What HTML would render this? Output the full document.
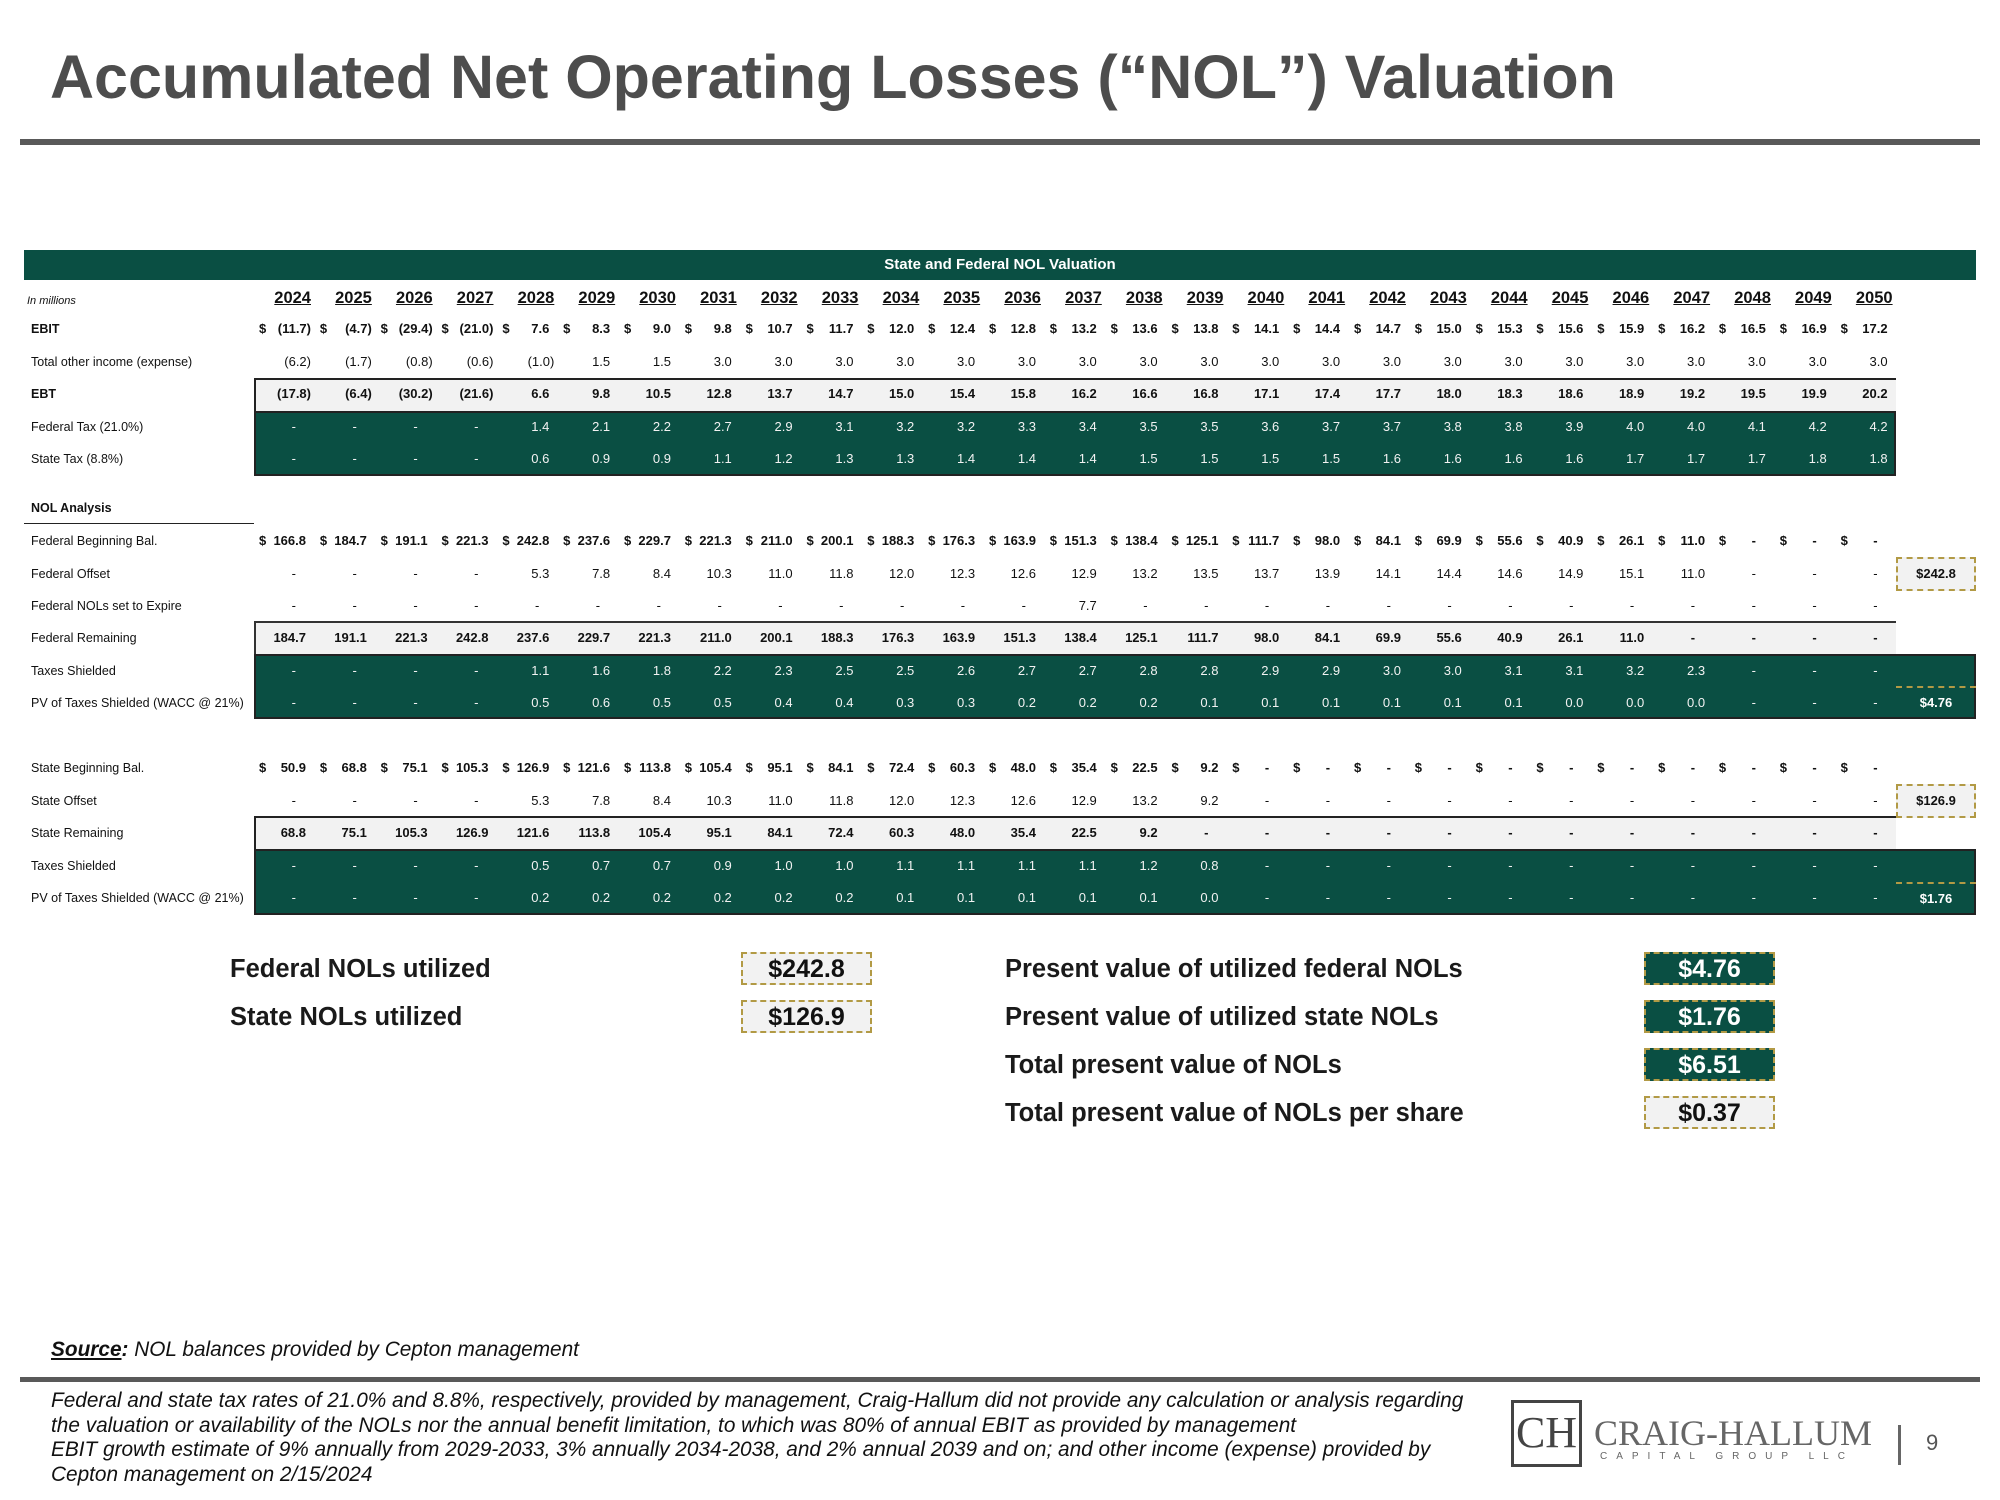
<!DOCTYPE html>
<html><head><meta charset="utf-8">
<style>
body{margin:0;background:#fff;}
#page{position:relative;width:2000px;height:1500px;overflow:hidden;background:#fff;font-family:"Liberation Sans",Arial,sans-serif;color:#111;}
.abs{position:absolute;}
.t{position:absolute;height:20px;line-height:20px;white-space:nowrap;font-family:"Liberation Sans",sans-serif;font-size:13px;}
.r{text-align:right;}
.lbl{position:absolute;height:20px;line-height:20px;white-space:nowrap;font-family:"Liberation Sans",sans-serif;font-size:12.5px;left:31px;}
.sumlbl{position:absolute;font-weight:bold;font-size:25.5px;line-height:34px;height:34px;color:#1a1a1a;white-space:nowrap;}
.box{position:absolute;width:131px;height:33px;line-height:31px;text-align:center;font-weight:bold;font-size:25px;box-sizing:border-box;}
.lt{background:#f2f2f2;border:2px dashed #b29a45;color:#111;}
.gr{background:#0a4f43;border:2px dashed #b29a45;color:#fff;}
.foot{position:absolute;left:51px;font-style:italic;font-size:20.8px;line-height:24.5px;white-space:nowrap;color:#111;}
</style></head>
<body>
<div id="page">
  <div class="abs" style="left:50px;top:40px;font-size:61px;font-weight:bold;color:#4d4d4d;white-space:nowrap;line-height:74px;">Accumulated Net Operating Losses (“NOL”) Valuation</div>
  <div class="abs" style="left:20px;top:139px;width:1960px;height:6px;background:#595959;"></div>

  <div class="abs" style="left:24px;top:250px;width:1952px;height:30px;background:#0a4f43;color:#fff;font-weight:bold;font-size:15px;line-height:30px;text-align:center;">State and Federal NOL Valuation</div>

  <div class="abs" style="left:254px;top:378px;width:1642px;height:33px;background:#f2f2f2;border-top:2px solid #222;border-left:2px solid #222;box-sizing:border-box;"></div>
  <div class="abs" style="left:254px;top:411px;width:1642px;height:65px;background:#0a4f43;border:2px solid #222;box-sizing:border-box;"></div>
  <div class="abs" style="left:24px;top:523px;width:230px;height:1px;background:#222;"></div>
  <div class="abs" style="left:254px;top:621px;width:1642px;height:33px;background:#f2f2f2;border-top:2px solid #333;border-left:2px solid #333;box-sizing:border-box;"></div>
  <div class="abs" style="left:254px;top:654px;width:1722px;height:65px;background:#0a4f43;border:2px solid #222;box-sizing:border-box;"></div>
  <div class="abs" style="left:1896px;top:557px;width:80px;height:34px;line-height:30px;background:#f2f2f2;border:2px dashed #b29a45;box-sizing:border-box;text-align:center;font-weight:bold;font-size:13px;">$242.8</div>
  <div class="abs" style="left:1896px;top:686px;width:80px;height:33px;line-height:30px;border-top:2px dashed #b29a45;box-sizing:border-box;text-align:center;font-weight:bold;font-size:13px;color:#fff;">$4.76</div>
  <div class="abs" style="left:254px;top:816px;width:1642px;height:33px;background:#f2f2f2;border-top:2px solid #222;border-left:2px solid #222;box-sizing:border-box;"></div>
  <div class="abs" style="left:254px;top:849px;width:1722px;height:66px;background:#0a4f43;border:2px solid #222;box-sizing:border-box;"></div>
  <div class="abs" style="left:1896px;top:784px;width:80px;height:34px;line-height:30px;background:#f2f2f2;border:2px dashed #b29a45;box-sizing:border-box;text-align:center;font-weight:bold;font-size:13px;">$126.9</div>
  <div class="abs" style="left:1896px;top:882px;width:80px;height:33px;line-height:30px;border-top:2px dashed #b29a45;box-sizing:border-box;text-align:center;font-weight:bold;font-size:13px;color:#fff;">$1.76</div>

  <div class="t" style="left:27px;top:291px;font-style:italic;font-size:11px;">In millions</div>
  <div class="lbl" style="top:498px;font-weight:bold;">NOL Analysis</div>

  <div id="table"></div>

  <div class="sumlbl" style="left:230px;top:952px;">Federal NOLs utilized</div>
  <div class="box lt" style="left:741px;top:952px;">$242.8</div>
  <div class="sumlbl" style="left:230px;top:1000px;">State NOLs utilized</div>
  <div class="box lt" style="left:741px;top:1000px;">$126.9</div>
  <div class="sumlbl" style="left:1005px;top:952px;">Present value of utilized federal NOLs</div>
  <div class="box gr" style="left:1644px;top:952px;">$4.76</div>
  <div class="sumlbl" style="left:1005px;top:1000px;">Present value of utilized state NOLs</div>
  <div class="box gr" style="left:1644px;top:1000px;">$1.76</div>
  <div class="sumlbl" style="left:1005px;top:1048px;">Total present value of NOLs</div>
  <div class="box gr" style="left:1644px;top:1048px;">$6.51</div>
  <div class="sumlbl" style="left:1005px;top:1096px;">Total present value of NOLs per share</div>
  <div class="box lt" style="left:1644px;top:1096px;">$0.37</div>

  <div class="foot" style="top:1338px;"><b><u>Source</u>:</b> NOL balances provided by Cepton management</div>
  <div class="abs" style="left:20px;top:1377px;width:1960px;height:5px;background:#595959;"></div>
  <div class="foot" style="top:1389px;">Federal and state tax rates of 21.0% and 8.8%, respectively, provided by management, Craig-Hallum did not provide any calculation or analysis regarding<br>the valuation or availability of the NOLs nor the annual benefit limitation, to which was 80% of annual EBIT as provided by management<br>EBIT growth estimate of 9% annually from 2029-2033, 3% annually 2034-2038, and 2% annual 2039 and on; and other income (expense) provided by<br>Cepton management on 2/15/2024</div>

  <div class="abs" style="left:1511px;top:1400px;width:71px;height:67px;border:3px solid #444;box-sizing:border-box;font-family:'Liberation Serif',serif;font-size:44px;line-height:60px;text-align:center;color:#444;">CH</div>
  <div class="abs" style="left:1594px;top:1413px;font-family:'Liberation Serif',serif;font-size:36px;color:#666;white-space:nowrap;line-height:40px;">CRAIG-HALLUM</div>
  <div class="abs" style="left:1600px;top:1451px;font-size:10px;letter-spacing:9px;color:#666;white-space:nowrap;">CAPITAL GROUP LLC</div>
  <div class="abs" style="left:1898px;top:1425px;width:3px;height:40px;background:#666;"></div>
  <div class="abs" style="left:1926px;top:1430px;font-size:22px;color:#555;">9</div>
</div>
<script>
const years = [2024,2025,2026,2027,2028,2029,2030,2031,2032,2033,2034,2035,2036,2037,2038,2039,2040,2041,2042,2043,2044,2045,2046,2047,2048,2049,2050];
const N = null;
const ebit = [-11.7,-4.7,-29.4,-21.0,7.6,8.3,9.0,9.8,10.7,11.7,12.0,12.4,12.8,13.2,13.6,13.8,14.1,14.4,14.7,15.0,15.3,15.6,15.9,16.2,16.5,16.9,17.2];
const otherIncome = [-6.2,-1.7,-0.8,-0.6,-1.0,1.5,1.5,3.0,3.0,3.0,3.0,3.0,3.0,3.0,3.0,3.0,3.0,3.0,3.0,3.0,3.0,3.0,3.0,3.0,3.0,3.0,3.0];
const ebt = [-17.8,-6.4,-30.2,-21.6,6.6,9.8,10.5,12.8,13.7,14.7,15.0,15.4,15.8,16.2,16.6,16.8,17.1,17.4,17.7,18.0,18.3,18.6,18.9,19.2,19.5,19.9,20.2];
const federalTax = [N,N,N,N,1.4,2.1,2.2,2.7,2.9,3.1,3.2,3.2,3.3,3.4,3.5,3.5,3.6,3.7,3.7,3.8,3.8,3.9,4.0,4.0,4.1,4.2,4.2];
const stateTax = [N,N,N,N,0.6,0.9,0.9,1.1,1.2,1.3,1.3,1.4,1.4,1.4,1.5,1.5,1.5,1.5,1.6,1.6,1.6,1.6,1.7,1.7,1.7,1.8,1.8];
const fedBegin = [166.8,184.7,191.1,221.3,242.8,237.6,229.7,221.3,211.0,200.1,188.3,176.3,163.9,151.3,138.4,125.1,111.7,98.0,84.1,69.9,55.6,40.9,26.1,11.0,N,N,N];
const fedOffset = [N,N,N,N,5.3,7.8,8.4,10.3,11.0,11.8,12.0,12.3,12.6,12.9,13.2,13.5,13.7,13.9,14.1,14.4,14.6,14.9,15.1,11.0,N,N,N];
const fedExpire = [N,N,N,N,N,N,N,N,N,N,N,N,N,7.7,N,N,N,N,N,N,N,N,N,N,N,N,N];
const fedRemain = [184.7,191.1,221.3,242.8,237.6,229.7,221.3,211.0,200.1,188.3,176.3,163.9,151.3,138.4,125.1,111.7,98.0,84.1,69.9,55.6,40.9,26.1,11.0,N,N,N,N];
const fedShield = [N,N,N,N,1.1,1.6,1.8,2.2,2.3,2.5,2.5,2.6,2.7,2.7,2.8,2.8,2.9,2.9,3.0,3.0,3.1,3.1,3.2,2.3,N,N,N];
const fedPV = [N,N,N,N,0.5,0.6,0.5,0.5,0.4,0.4,0.3,0.3,0.2,0.2,0.2,0.1,0.1,0.1,0.1,0.1,0.1,0.0,0.0,0.0,N,N,N];
const stBegin = [50.9,68.8,75.1,105.3,126.9,121.6,113.8,105.4,95.1,84.1,72.4,60.3,48.0,35.4,22.5,9.2,N,N,N,N,N,N,N,N,N,N,N];
const stOffset = [N,N,N,N,5.3,7.8,8.4,10.3,11.0,11.8,12.0,12.3,12.6,12.9,13.2,9.2,N,N,N,N,N,N,N,N,N,N,N];
const stRemain = [68.8,75.1,105.3,126.9,121.6,113.8,105.4,95.1,84.1,72.4,60.3,48.0,35.4,22.5,9.2,N,N,N,N,N,N,N,N,N,N,N,N];
const stShield = [N,N,N,N,0.5,0.7,0.7,0.9,1.0,1.0,1.1,1.1,1.1,1.1,1.2,0.8,N,N,N,N,N,N,N,N,N,N,N];
const stPV = [N,N,N,N,0.2,0.2,0.2,0.2,0.2,0.2,0.1,0.1,0.1,0.1,0.1,0.0,N,N,N,N,N,N,N,N,N,N,N];

const table = document.getElementById('table');
function colRight(i){ return 311 + 60.83*i; }
function fmt(v){ if(v===null) return '-'; return v<0 ? '('+Math.abs(v).toFixed(1)+')' : v.toFixed(1); }

years.forEach((y,i)=>{
  const d=document.createElement('div');
  d.className='t r';
  d.style.cssText=`left:${colRight(i)-60}px;width:60px;top:288px;font-weight:bold;font-size:16.5px;text-decoration:underline;`;
  d.textContent=y;
  
  
  table.appendChild(d);
});

const rows = [
  ['EBIT','ebit',ebit,329,true,true,false],
  ['Total other income (expense)','other-income',otherIncome,362,false,false,false],
  ['EBT','ebt',ebt,394,true,false,false],
  ['Federal Tax (21.0%)','federal-tax',federalTax,427,false,false,true],
  ['State Tax (8.8%)','state-tax',stateTax,459,false,false,true],
  ['Federal Beginning Bal.','federal-beginning-bal',fedBegin,541,false,true,false],
  ['Federal Offset','federal-offset',fedOffset,574,false,false,false],
  ['Federal NOLs set to Expire','federal-expire',fedExpire,606,false,false,false],
  ['Federal Remaining','federal-remaining',fedRemain,638,false,false,false],
  ['Taxes Shielded','federal-taxes-shielded',fedShield,671,false,false,true],
  ['PV of Taxes Shielded (WACC @ 21%)','federal-pv-shielded',fedPV,703,false,false,true],
  ['State Beginning Bal.','state-beginning-bal',stBegin,768,false,true,false],
  ['State Offset','state-offset',stOffset,801,false,false,false],
  ['State Remaining','state-remaining',stRemain,833,false,false,false],
  ['Taxes Shielded','state-taxes-shielded',stShield,866,false,false,true],
  ['PV of Taxes Shielded (WACC @ 21%)','state-pv-shielded',stPV,898,false,false,true]
];
const boldVals = {'ebit':1,'ebt':1,'federal-beginning-bal':1,'federal-remaining':1,'state-beginning-bal':1,'state-remaining':1};

rows.forEach(([label,key,vals,y,bold,dollar,green])=>{
  const l=document.createElement('div');
  l.className='lbl';
  l.style.top=(y-10)+'px';
  if(bold) l.style.fontWeight='bold';
  l.textContent=label;
  
  
  table.appendChild(l);
  const bv = boldVals[key];
  vals.forEach((v,i)=>{
    const d=document.createElement('div');
    d.className='t r';
    const pr = v===null ? 15 : (v<0 ? 0 : 5);
    d.style.cssText=`left:${colRight(i)-60}px;width:${60-pr}px;top:${y-10}px;`+(bv?'font-weight:bold;':'')+(green?'color:#f2f2f2;':'');
    d.textContent=fmt(v);
    
    
    table.appendChild(d);
    if(dollar){
      const s=document.createElement('div');
      s.className='t';
      s.style.cssText=`left:${colRight(i)-52}px;top:${y-10}px;font-weight:bold;`;
      s.textContent='$';
      
      
      table.appendChild(s);
    }
  });
});
</script>
</body></html>
